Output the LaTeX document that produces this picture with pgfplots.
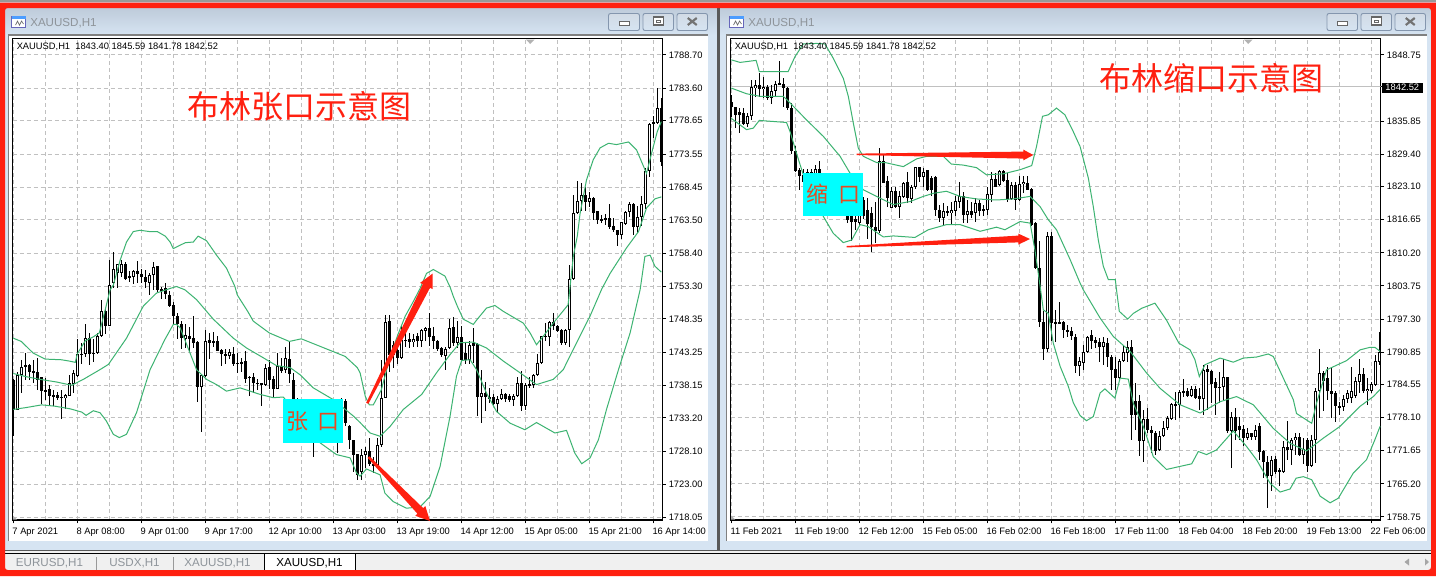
\documentclass[border=0pt]{standalone}
\usepackage{pgfplots}
\usepackage{pgfplotstable}
\usepackage{fontspec}
\pgfplotsset{compat=1.18}
\setmainfont{Liberation Sans}
\newfontfamily\cjk{Noto Sans CJK SC}
\definecolor{redframe}{HTML}{FF2010}
\definecolor{winblue}{HTML}{D6E4F2}
\definecolor{titletop}{HTML}{BECBDA}
\definecolor{bandgreen}{HTML}{3CB371}
\definecolor{gridgray}{HTML}{C0C0C0}
\definecolor{btnedge}{HTML}{8496AE}
\definecolor{tabbg}{HTML}{F0F0F0}
\definecolor{graytext}{HTML}{8E949A}
\definecolor{boxtext}{HTML}{E84A20}
\definecolor{cybox}{HTML}{00FFFF}

\pgfplotstableread{
i o h l c
0 1739.0 1739.1 1730.5 1734.4
1 1734.5 1740.2 1734.4 1739.8
2 1739.8 1742.1 1737.0 1741.0
3 1741.0 1743.1 1739.0 1741.3
4 1741.3 1741.5 1739.0 1740.3
5 1740.4 1742.0 1738.5 1740.1
6 1740.2 1742.4 1737.5 1739.0
7 1739.5 1739.5 1735.4 1737.3
8 1737.5 1739.3 1736.0 1737.2
9 1737.7 1738.3 1735.2 1736.5
10 1736.7 1737.5 1735.0 1736.5
11 1736.7 1737.2 1736.0 1736.2
12 1736.4 1737.5 1733.0 1736.3
13 1736.2 1736.9 1734.6 1736.7
14 1736.6 1739.8 1736.5 1738.6
15 1738.4 1740.6 1737.0 1740.0
16 1739.6 1745.3 1739.4 1743.0
17 1743.0 1744.7 1741.5 1742.9
18 1743.0 1747.6 1742.6 1745.4
19 1745.4 1746.2 1741.3 1743.0
20 1743.2 1745.2 1741.8 1743.0
21 1743.1 1746.2 1743.0 1745.7
22 1745.7 1751.2 1745.6 1749.5
23 1749.5 1750.0 1746.1 1747.3
24 1747.3 1757.4 1747.2 1753.6
25 1753.8 1758.6 1753.0 1756.0
26 1755.3 1756.8 1753.0 1756.8
27 1755.3 1757.4 1754.8 1756.8
28 1756.8 1757.1 1754.3 1754.5
29 1754.9 1755.7 1754.0 1754.7
30 1754.8 1755.8 1753.7 1755.7
31 1755.7 1757.2 1753.9 1755.2
32 1755.2 1756.0 1753.9 1754.7
33 1754.8 1755.8 1753.0 1754.0
34 1753.9 1755.3 1752.0 1755.0
35 1755.0 1757.1 1752.8 1756.3
36 1756.4 1756.5 1752.5 1752.8
37 1752.6 1753.2 1751.4 1752.9
38 1753.1 1753.8 1751.4 1752.1
39 1752.0 1752.6 1750.1 1750.3
40 1750.5 1751.0 1747.5 1748.8
41 1748.8 1749.2 1745.2 1747.6
42 1747.6 1748.0 1743.8 1745.4
43 1745.3 1747.5 1743.9 1745.9
44 1745.8 1747.1 1743.3 1745.3
45 1745.4 1748.8 1743.9 1744.6
46 1744.9 1745.0 1735.6 1738.0
47 1738.0 1739.9 1731.0 1739.7
48 1739.6 1746.6 1739.5 1745.0
49 1745.1 1746.2 1742.2 1744.7
50 1744.7 1746.4 1744.0 1745.0
51 1745.0 1745.7 1743.5 1743.5
52 1743.6 1743.8 1741.2 1743.0
53 1743.0 1743.8 1741.5 1742.8
54 1742.7 1743.8 1742.3 1743.3
55 1743.0 1744.1 1741.2 1741.5
56 1741.6 1743.1 1740.1 1741.5
57 1741.7 1742.4 1740.3 1741.5
58 1741.9 1743.4 1738.5 1739.2
59 1739.5 1739.7 1736.6 1739.3
60 1739.4 1740.0 1737.0 1738.5
61 1738.6 1739.2 1737.5 1738.4
62 1738.5 1738.5 1735.0 1738.3
63 1738.3 1741.4 1738.1 1740.9
64 1741.0 1742.0 1737.6 1739.0
65 1739.1 1739.6 1736.2 1737.7
66 1737.7 1743.2 1737.6 1741.2
67 1741.2 1742.4 1740.1 1740.4
68 1740.5 1744.1 1740.0 1742.4
69 1742.2 1744.9 1738.5 1740.0
70 1739.0 1740.1 1735.0 1736.0
71 1736.0 1736.3 1733.5 1735.0
72 1735.0 1735.2 1732.5 1733.5
73 1733.5 1733.8 1731.0 1732.0
74 1732.0 1732.5 1730.5 1731.0
75 1731.0 1731.5 1727.2 1730.5
76 1730.5 1732.0 1730.0 1731.5
77 1731.5 1733.0 1731.0 1732.5
78 1732.5 1733.5 1731.0 1731.5
79 1731.5 1733.0 1730.0 1732.0
80 1732.0 1733.0 1730.5 1731.0
81 1731.0 1732.5 1727.8 1732.0
82 1732.0 1736.2 1731.5 1735.8
83 1735.8 1736.1 1732.0 1732.4
84 1731.9 1732.2 1728.4 1729.8
85 1729.9 1729.9 1724.9 1727.6
86 1727.7 1727.7 1723.7 1724.5
87 1725.0 1728.4 1723.7 1727.6
88 1727.5 1728.8 1725.5 1728.2
89 1728.2 1730.1 1725.8 1726.1
90 1726.1 1727.3 1724.8 1726.0
91 1726.0 1730.1 1725.5 1729.0
92 1729.0 1742.1 1728.8 1736.3
93 1736.3 1748.9 1736.2 1747.9
94 1748.1 1748.9 1740.2 1742.9
95 1744.4 1745.0 1740.9 1742.9
96 1743.6 1744.4 1741.5 1742.4
97 1742.4 1747.2 1742.3 1745.1
98 1745.2 1746.2 1744.0 1745.0
99 1745.2 1746.2 1743.9 1744.8
100 1744.8 1746.0 1744.0 1745.2
101 1745.8 1746.2 1744.0 1745.0
102 1745.0 1746.8 1744.0 1746.6
103 1746.5 1747.1 1745.0 1747.0
104 1747.0 1749.3 1744.2 1745.6
105 1745.7 1747.1 1743.8 1744.9
106 1745.0 1745.2 1743.5 1743.8
107 1743.9 1744.0 1742.5 1742.8
108 1742.6 1744.0 1740.6 1743.8
109 1743.9 1748.4 1743.7 1747.0
110 1747.1 1748.6 1744.2 1744.7
111 1744.6 1748.0 1743.9 1745.6
112 1745.6 1747.2 1741.9 1742.0
113 1743.2 1744.7 1741.5 1742.1
114 1742.1 1744.9 1741.5 1744.4
115 1744.6 1747.0 1741.6 1744.2
116 1744.5 1744.7 1733.5 1736.4
117 1736.4 1740.5 1732.5 1737.0
118 1737.0 1738.7 1734.2 1736.4
119 1736.4 1737.8 1735.5 1736.2
120 1736.4 1736.8 1735.2 1735.4
121 1735.4 1736.6 1733.9 1736.1
122 1736.1 1737.6 1735.9 1736.9
123 1736.8 1737.0 1735.7 1736.1
124 1736.5 1736.8 1735.6 1735.9
125 1735.9 1736.8 1735.1 1736.5
126 1736.5 1739.5 1736.4 1738.5
127 1738.5 1740.4 1734.2 1735.0
128 1735.1 1738.5 1734.4 1738.3
129 1738.4 1739.5 1737.8 1738.2
130 1738.2 1740.0 1737.8 1739.8
131 1739.7 1743.0 1739.6 1741.6
132 1741.6 1745.8 1741.4 1745.7
133 1745.6 1747.7 1745.0 1745.8
134 1745.6 1748.0 1744.2 1747.9
135 1747.9 1749.2 1746.7 1747.2
136 1747.3 1747.5 1746.3 1746.5
137 1746.6 1746.8 1744.4 1744.6
138 1744.6 1746.8 1744.4 1746.6
139 1746.6 1756.6 1744.0 1754.4
140 1754.4 1767.3 1754.3 1764.6
141 1764.5 1769.4 1764.4 1766.4
142 1766.4 1769.1 1764.9 1767.3
143 1767.3 1768.5 1764.9 1766.2
144 1766.2 1767.8 1765.5 1766.8
145 1766.9 1767.0 1763.5 1764.6
146 1764.8 1764.9 1762.9 1763.4
147 1763.6 1764.3 1763.0 1763.4
148 1763.8 1764.4 1762.7 1763.5
149 1763.8 1766.0 1762.1 1762.4
150 1762.6 1763.8 1761.7 1761.9
151 1762.0 1762.0 1759.5 1761.2
152 1761.2 1763.2 1760.5 1763.1
153 1762.9 1764.9 1762.7 1764.7
154 1764.7 1766.3 1763.9 1765.9
155 1765.9 1766.0 1761.2 1762.4
156 1762.4 1765.6 1761.5 1763.9
157 1763.9 1767.2 1762.5 1765.9
158 1765.9 1771.4 1765.1 1771.0
159 1771.0 1778.3 1770.1 1778.2
160 1778.2 1779.3 1776.0 1778.4
161 1778.3 1783.6 1778.2 1780.6
162 1780.6 1782.1 1771.8 1772.4
}\leftcandles

\pgfplotstableread{
i o h l c
0 1839.6 1841.0 1836.7 1838.6
1 1838.6 1838.6 1834.5 1837.1
2 1837.7 1838.4 1833.5 1837.1
3 1837.4 1838.4 1835.1 1835.4
4 1835.4 1837.4 1834.8 1836.9
5 1836.8 1843.9 1836.1 1842.5
6 1842.3 1843.9 1840.6 1842.9
7 1842.9 1845.3 1840.6 1842.1
8 1842.1 1844.5 1840.3 1842.5
9 1842.6 1842.9 1840.0 1840.3
10 1840.3 1842.9 1839.2 1841.8
11 1841.7 1843.6 1840.7 1843.1
12 1843.3 1847.5 1842.9 1843.0
13 1843.2 1844.2 1838.6 1842.3
14 1842.4 1842.6 1838.0 1838.4
15 1838.4 1839.4 1829.5 1830.0
16 1830.0 1831.0 1826.0 1826.1
17 1826.4 1826.7 1822.5 1825.1
18 1825.4 1826.5 1822.7 1824.0
19 1824.0 1826.5 1823.0 1826.0
20 1826.0 1826.5 1822.0 1824.5
21 1825.0 1827.4 1822.0 1826.5
22 1826.6 1828.0 1821.0 1824.0
23 1824.0 1824.5 1822.0 1823.0
24 1823.0 1823.5 1820.5 1821.5
25 1821.5 1822.5 1820.0 1820.5
26 1820.5 1821.5 1819.0 1820.0
27 1820.0 1820.5 1818.0 1819.0
28 1819.0 1820.0 1817.5 1818.0
29 1818.0 1819.0 1816.0 1816.7
30 1817.3 1818.0 1812.6 1816.2
31 1816.9 1818.0 1814.6 1816.2
32 1816.0 1820.0 1815.7 1818.5
33 1820.5 1821.0 1816.9 1817.4
34 1818.5 1820.9 1812.9 1815.9
35 1817.9 1819.2 1810.3 1815.3
36 1815.3 1820.2 1812.1 1814.4
37 1814.4 1830.6 1814.0 1828.1
38 1828.1 1829.3 1823.8 1823.9
39 1824.2 1825.1 1819.1 1820.9
40 1819.0 1823.1 1818.9 1822.2
41 1822.2 1823.0 1818.9 1819.1
42 1819.1 1822.2 1817.0 1821.2
43 1821.1 1824.1 1820.9 1823.9
44 1824.1 1826.0 1819.9 1820.9
45 1820.7 1823.5 1819.9 1823.0
46 1823.0 1827.0 1822.6 1826.9
47 1826.9 1827.0 1824.1 1824.9
48 1824.9 1826.7 1823.1 1825.9
49 1826.3 1826.4 1822.2 1822.4
50 1824.8 1825.1 1821.2 1822.4
51 1824.9 1825.1 1817.3 1818.5
52 1818.6 1819.6 1816.3 1817.0
53 1817.0 1819.9 1815.7 1818.3
54 1818.3 1819.4 1817.3 1818.0
55 1818.0 1820.2 1815.7 1818.5
56 1818.3 1821.2 1817.3 1820.3
57 1820.2 1824.1 1818.9 1821.3
58 1821.2 1822.0 1816.0 1817.6
59 1817.6 1820.5 1816.0 1818.4
60 1818.4 1820.2 1817.0 1817.6
61 1817.9 1820.9 1816.3 1820.0
62 1820.0 1820.5 1817.3 1818.4
63 1818.7 1819.6 1817.3 1818.5
64 1818.5 1823.1 1817.6 1821.7
65 1821.5 1825.9 1820.2 1824.6
66 1824.6 1825.7 1823.0 1823.0
67 1823.5 1826.4 1823.3 1826.2
68 1826.2 1826.4 1824.1 1824.3
69 1824.4 1825.7 1820.2 1820.7
70 1820.7 1824.1 1820.5 1823.5
71 1823.5 1824.0 1818.6 1820.5
72 1820.5 1825.1 1820.3 1823.7
73 1823.7 1825.2 1821.8 1824.1
74 1823.9 1825.2 1822.4 1822.5
75 1822.6 1822.8 1815.5 1815.7
76 1816.0 1816.3 1807.0 1807.2
77 1807.2 1812.6 1795.8 1796.7
78 1796.8 1798.8 1789.4 1791.4
79 1791.4 1814.2 1790.8 1813.5
80 1813.5 1814.2 1793.0 1796.5
81 1796.7 1799.0 1792.9 1796.5
82 1796.7 1800.6 1796.3 1796.5
83 1796.7 1797.0 1793.6 1795.1
84 1795.1 1796.2 1793.8 1794.8
85 1795.0 1795.8 1793.3 1794.1
86 1793.8 1794.4 1786.8 1788.1
87 1788.1 1790.0 1786.3 1789.2
88 1788.8 1792.3 1787.4 1790.9
89 1790.9 1794.1 1790.7 1793.9
90 1794.1 1795.1 1791.4 1793.1
91 1793.2 1793.9 1791.6 1792.7
92 1792.9 1793.6 1789.0 1791.8
93 1791.8 1793.9 1788.4 1792.8
94 1792.7 1793.6 1788.0 1789.9
95 1790.0 1790.3 1783.5 1787.4
96 1787.6 1790.0 1783.4 1785.8
97 1785.8 1789.5 1785.6 1789.2
98 1789.1 1792.0 1789.0 1790.9
99 1790.7 1793.1 1789.0 1791.9
100 1791.9 1793.2 1773.8 1778.6
101 1781.4 1784.8 1775.7 1778.6
102 1781.4 1782.5 1770.7 1773.5
103 1773.5 1779.6 1769.4 1777.9
104 1777.9 1780.0 1775.2 1775.6
105 1775.7 1776.4 1771.2 1775.2
106 1775.1 1775.4 1770.9 1771.7
107 1771.7 1775.4 1771.6 1774.6
108 1774.5 1777.4 1774.3 1776.1
109 1776.1 1778.5 1775.7 1778.1
110 1777.9 1780.9 1777.7 1780.7
111 1780.8 1783.0 1777.7 1780.5
112 1780.6 1783.5 1778.0 1783.1
113 1783.3 1785.6 1782.1 1782.9
114 1783.3 1783.8 1782.1 1782.3
115 1782.3 1784.2 1782.1 1783.7
116 1783.7 1784.2 1781.7 1781.9
117 1782.3 1783.8 1779.5 1781.8
118 1781.8 1788.4 1778.6 1787.4
119 1787.5 1788.4 1779.6 1787.0
120 1787.2 1787.4 1780.9 1784.7
121 1785.0 1785.8 1778.6 1783.9
122 1784.1 1786.9 1781.0 1783.9
123 1784.0 1789.5 1781.6 1786.0
124 1786.1 1786.1 1775.1 1775.4
125 1775.5 1779.3 1768.3 1778.2
126 1778.2 1780.0 1773.7 1775.5
127 1776.5 1778.3 1773.7 1775.7
128 1775.9 1776.7 1772.6 1774.1
129 1774.1 1776.0 1773.8 1775.1
130 1775.1 1775.2 1773.8 1774.4
131 1774.4 1776.7 1773.8 1775.7
132 1776.5 1777.0 1769.8 1771.5
133 1771.6 1771.8 1766.3 1769.4
134 1769.5 1770.7 1760.5 1766.8
135 1766.8 1770.7 1763.8 1769.9
136 1770.0 1770.7 1767.2 1767.6
137 1767.9 1768.2 1764.7 1767.7
138 1767.6 1773.6 1767.4 1772.3
139 1772.4 1777.5 1769.9 1771.8
140 1771.8 1774.1 1768.9 1773.8
141 1773.7 1775.1 1770.9 1774.3
142 1774.4 1775.1 1770.7 1770.9
143 1770.8 1774.1 1769.0 1772.0
144 1773.8 1774.1 1767.5 1768.6
145 1768.6 1774.8 1768.5 1773.8
146 1773.7 1783.8 1769.2 1783.3
147 1783.2 1791.4 1778.0 1786.8
148 1786.8 1787.2 1779.3 1785.3
149 1785.8 1787.9 1781.6 1783.2
150 1783.3 1787.9 1778.0 1782.7
151 1782.9 1783.2 1777.2 1780.3
152 1780.4 1781.2 1778.6 1780.1
153 1780.1 1782.5 1779.3 1781.8
154 1781.8 1783.4 1780.9 1782.9
155 1782.0 1787.9 1780.9 1783.2
156 1782.3 1786.0 1782.0 1785.3
157 1785.1 1789.5 1783.0 1786.6
158 1786.6 1787.7 1783.0 1783.2
159 1783.2 1785.8 1780.6 1783.6
160 1783.2 1785.0 1782.9 1784.6
161 1784.4 1790.3 1784.3 1789.2
162 1788.9 1794.7 1788.3 1790.9
}\rightcandles

% #1 table, #2 price of one pixel
\newcommand{\candles}[2]{%
  \addplot[draw=none, mark=none, forget plot, error bars/.cd, y dir=both, y explicit, error mark=none,
    error bar style={draw=black, line width=.75pt}]
    table[x=i, y expr=(\thisrow{h}+\thisrow{l})/2, y error expr=(\thisrow{h}-\thisrow{l})/2] {#1};
  \addplot[draw=none, mark=none, forget plot, error bars/.cd, y dir=both, y explicit, error mark=none,
    error bar style={draw=black, line width=2.55pt}]
    table[x=i, y expr=(\thisrow{o}+\thisrow{c})/2, y error expr={max(abs(\thisrow{o}-\thisrow{c})/2, #2/2)}] {#1};
  \addplot[draw=none, mark=none, forget plot, error bars/.cd, y dir=both, y explicit, error mark=none,
    error bar style={draw=white, line width=1.05pt}]
    table[x=i, y expr=(\thisrow{o}+\thisrow{c})/2, y error expr={max((\thisrow{c}-\thisrow{o})/2-#2,0)}] {#1};
}
\pgfplotsset{mt4/.style={
  scale only axis, width=487.5pt, height=361.1pt, anchor=north west,
  axis line style={black, line width=1pt},
  xtick pos=bottom, ytick pos=right, yticklabel pos=right,
  tick align=outside, major tick length=2.6pt, minor tick length=0pt,
  tick style={black, line width=.75pt},
  grid=both,
  major grid style={gridgray, line width=.75pt, dash pattern=on 3pt off 2.25pt},
  minor grid style={gridgray, line width=.75pt, dash pattern=on 3pt off 2.25pt},
  xtick={0,16,...,160}, minor xtick={8,24,...,152},
  ticklabel style={font=\fontsize{7}{8}\selectfont, inner sep=0pt},
  xticklabel style={anchor=north west, xshift=-0.8pt, yshift=-3.2pt},
  yticklabel style={anchor=west, xshift=1.9pt},
  band/.style={bandgreen, line width=.75pt, mark=none, forget plot},
}}
\newcommand{\wbutton}[3]{%
  \shade[top color=titletop!70!white, bottom color=winblue, rounded corners=1.5pt, draw=btnedge, line width=.7pt] (#1,-13.5) rectangle (#2,-30.5);
  \ifcase#3
    \draw[line width=.7pt, draw=black!60, fill=white] ({(#1+#2)/2-5},-21) rectangle ({(#1+#2)/2+5},-25.5);
  \or
    \draw[line width=.9pt, draw=black!60, fill=white] ({(#1+#2)/2-5},-17) rectangle ({(#1+#2)/2+5},-25);
    \draw[line width=.7pt, draw=black!60] ({(#1+#2)/2-2},-20) rectangle ({(#1+#2)/2+2},-22);
  \or
    \draw[line width=1.6pt, draw=black!55] ({(#1+#2)/2-4.5},-18) -- ({(#1+#2)/2+4.5},-25) ({(#1+#2)/2-4.5},-25) -- ({(#1+#2)/2+4.5},-18);
  \fi}
\newcommand{\wicon}[1]{%
  \fill[white, draw=black!45!blue!60, line width=.5pt] (#1,-16) rectangle (#1+14,-27);
  \fill[blue!55!cyan!70] (#1,-16) rectangle (#1+14,-18.5);
  \draw[black!60, line width=.5pt] (#1+4,-25) -- (#1+6,-21) -- (#1+8,-25) -- (#1+10,-21) -- (#1+12,-24);}
\begin{document}
\begin{tikzpicture}[x=.75pt,y=.75pt]
\useasboundingbox (0,0) rectangle (1436,-576);
% window chrome
\fill[white] (0,0) rectangle (1436,-576);
\fill[black!40] (0,0) rectangle (1436,-2);
\fill[winblue] (0,-2) rectangle (1436,-551);
\shade[top color=titletop, bottom color=winblue] (0,-8) rectangle (717,-35);
\shade[top color=titletop, bottom color=winblue] (720,-8) rectangle (1436,-35);
\fill[black!65] (717,-8) rectangle (719.5,-550);
\fill[white] (8,-35) rectangle (708,-541);
\fill[white] (726.5,-35) rectangle (1427,-541);
\draw[black!50, line width=.8pt] (8.5,-541) -- (8.5,-35) -- (708,-35);
\draw[black!50, line width=.8pt] (726.5,-541) -- (726.5,-35) -- (1427,-35);
\wicon{11.5}\wicon{729.5}
\node[anchor=west, inner sep=0pt, text=graytext, font=\fontsize{8.7}{10}\selectfont] at (30,-23) {XAUUSD,H1};
\node[anchor=west, inner sep=0pt, text=graytext, font=\fontsize{8.7}{10}\selectfont] at (748,-23) {XAUUSD,H1};
\wbutton{608.5}{639.5}{0}\wbutton{643}{673.5}{1}\wbutton{677}{707.5}{2}
\wbutton{1327}{1357.5}{0}\wbutton{1361}{1391.5}{1}\wbutton{1395}{1425.5}{2}
% tab bar
\fill[tabbg] (0,-551) rectangle (1436,-576);
\fill[black!65] (0,-550) rectangle (1436,-551);
\fill[black] (0,-553) rectangle (1436,-553.8);
\fill[white, draw=black, line width=.7pt] (264.7,-570) -- (264.7,-553.5) -- (355,-553.5) -- (355,-570) -- cycle;
\fill[black!40] (96,-557) rectangle (96.8,-570);
\fill[black!40] (172.5,-557) rectangle (173.3,-570);
\node[text=graytext, inner sep=0pt, font=\fontsize{8.7}{10}\selectfont] at (49.5,-563) {EURUSD,H1};
\node[text=graytext, inner sep=0pt, font=\fontsize{8.7}{10}\selectfont] at (134.5,-563) {USDX,H1};
\node[text=graytext, inner sep=0pt, font=\fontsize{8.7}{10}\selectfont] at (217.5,-563) {XAUUSD,H1};
\node[text=black, inner sep=0pt, font=\fontsize{8.7}{10}\selectfont] at (309.5,-563) {XAUUSD,H1};
\fill[black!35] (1404.5,-562) -- (1409,-558.5) -- (1409,-565.5) -- cycle;
\fill[black!35] (1429,-562) -- (1425,-558.5) -- (1425,-565.5) -- cycle;
% red frame
\fill[redframe, even odd rule] (0,-2.5) rectangle (1436,-576) [rounded corners=2pt] (5,-8) rectangle (1431,-570);

% left chart
\begin{axis}[mt4, at={(9.375pt,-28.875pt)},
  xmin=-0.2, xmax=162.3, ymin=1717.60, ymax=1791.22,
  xticklabels={7 Apr 2021,8 Apr 08:00,9 Apr 01:00,9 Apr 17:00,12 Apr 10:00,13 Apr 03:00,13 Apr 19:00,14 Apr 12:00,15 Apr 05:00,15 Apr 21:00,16 Apr 14:00},
  ytick={1788.70,1783.60,1778.65,1773.55,1768.45,1763.50,1758.40,1753.30,1748.35,1743.25,1738.15,1733.20,1728.10,1723.00,1718.05},
  yticklabels={1788.70,1783.60,1778.65,1773.55,1768.45,1763.50,1758.40,1753.30,1748.35,1743.25,1738.15,1733.20,1728.10,1723.00,1718.05},
]
\candles{\leftcandles}{0.153}
\addplot[band] coordinates {(0,1745.4)(2,1744.9)(5,1743.1)(8,1742.2)(12,1742.1)(14,1741.9)(15.5,1741.7)(16,1743)(18,1745)(20,1745.6)(21.5,1746.2)(23,1749.8)(24.2,1752.8)(25,1753.5)(26.7,1757.3)(28.3,1760.1)(30,1761.7)(31.7,1761.9)(34,1761.7)(36,1761.7)(38,1761)(39.2,1760.1)(40,1759.1)(43,1760)(45,1760.1)(46.2,1761)(48.3,1760.3)(50.8,1758.1)(53.3,1756.1)(55.4,1753.3)(56,1752)(58.6,1749.5)(60,1748)(64,1746.2)(69,1744.9)(72,1745.3)(76.5,1744.2)(83,1742.6)(86,1740.9)(86.7,1740.1)(88,1736.5)(89,1735.2)(90,1735.2)(92,1737.5)(94,1742.1)(96,1745.7)(98,1748.8)(100,1751)(101.7,1753)(103.3,1755.3)(105,1755.9)(107.9,1754.9)(109.2,1753.2)(110,1751.8)(111,1750.3)(112.5,1748.3)(115,1747.5)(116,1748.3)(118.3,1750)(120.4,1750.4)(122.5,1749.5)(127.5,1747.7)(129.2,1746.2)(130.8,1744.4)(132.5,1745.7)(135,1747.7)(136.7,1749)(138.7,1750.5)(140,1757.9)(141,1761)(141.7,1764.5)(143.3,1769.6)(145,1772.7)(146.7,1774.5)(148.8,1775.2)(150.8,1775)(153.8,1775.4)(155.8,1774.2)(158.3,1770.6)(160,1774.7)(161,1777)(162,1778.5)};
\addplot[band] coordinates {(0,1740)(3.3,1739.5)(6.7,1739.1)(10.8,1738.7)(14.6,1738.2)(17.5,1739.1)(21.7,1740.6)(23.8,1741.4)(28.3,1745.4)(32.5,1750.3)(35.8,1752.3)(39.2,1753)(40.8,1753.3)(42.9,1752.8)(45.8,1751.3)(50,1748.3)(55,1745.4)(58.3,1743.9)(62.5,1742.4)(65.8,1741.2)(69.2,1740.9)(71.7,1739.8)(75,1737.8)(80,1736)(85,1733.5)(86.7,1732.5)(89.2,1730.9)(91.7,1730.4)(94.2,1731.9)(97.5,1734.5)(102.1,1736.8)(105.8,1740.1)(109.2,1742.9)(111.7,1744.7)(115,1744.8)(118.3,1743.9)(122.5,1741.9)(126.7,1740.1)(130.8,1738.3)(135,1739.1)(137.5,1740.6)(140,1743.7)(144.2,1748.8)(147.1,1752.9)(149.2,1755.3)(153.3,1759.2)(156.3,1761.7)(158.3,1765.3)(160.4,1766.7)(162,1767)};
\addplot[band] coordinates {(0,1734.5)(3.3,1734.8)(7.1,1735.2)(10.4,1735)(14.2,1734.6)(17.1,1734.1)(18.2,1733.6)(20,1734.3)(21.7,1734)(23.3,1732.7)(25,1730.7)(26.5,1730.2)(28.3,1730.7)(30.8,1734)(34.2,1740.6)(37.9,1745.2)(40,1747.5)(40.8,1747.5)(41.7,1747)(44.2,1743.1)(45.8,1740.6)(48.3,1739.1)(50.8,1738.3)(53.3,1737.3)(56.7,1737.8)(61.7,1736.8)(65,1736.3)(67.5,1736.4)(76.7,1729.4)(80.8,1727.6)(84.2,1727.1)(85.8,1724.8)(86.7,1724.3)(88.3,1725.4)(91.7,1724.5)(92.9,1721.7)(95,1720.4)(98.3,1719.4)(101.7,1719.6)(104.2,1721.2)(106.7,1725.8)(109.2,1733.5)(110.8,1739.6)(112.1,1742)(114.2,1742.1)(115.8,1740.6)(118.3,1737)(120.8,1734.2)(124.2,1732.4)(127.9,1731.4)(130.8,1732.5)(135.4,1730.9)(138.3,1731.3)(140.4,1727.8)(142.1,1726.2)(144.2,1727.1)(146.3,1729.9)(148.3,1734.5)(151.3,1740.6)(154.2,1746.2)(156.7,1752.8)(157.9,1757.9)(159.2,1758.1)(160.4,1756.4)(162,1755.5)};
\end{axis}

% right chart
\begin{axis}[mt4, at={(548.025pt,-28.875pt)},
  xmin=-0.15, xmax=162.35, ymin=1758.16, ymax=1851.96,
  xticklabels={11 Feb 2021,11 Feb 19:00,12 Feb 12:00,15 Feb 05:00,16 Feb 02:00,16 Feb 18:00,17 Feb 11:00,18 Feb 04:00,18 Feb 20:00,19 Feb 13:00,22 Feb 06:00},
  ytick={1848.75,1842.52,1835.85,1829.40,1823.10,1816.65,1810.20,1803.75,1797.30,1790.85,1784.55,1778.10,1771.65,1765.20,1758.75},
  yticklabels={1848.75,,1835.85,1829.40,1823.10,1816.65,1810.20,1803.75,1797.30,1790.85,1784.55,1778.10,1771.65,1765.20,1758.75},
]
\addplot[gridgray, line width=.75pt, forget plot] coordinates {(-0.15,1842.52)(162.35,1842.52)};
\candles{\rightcandles}{0.195}
\addplot[band] coordinates {(0,1847.8)(2.2,1847.3)(6.2,1847.7)(7,1845.5)(10.5,1845.5)(14.2,1845.5)(15.9,1848.4)(18,1850.9)(21.3,1851)(23.4,1850.9)(25.5,1848.1)(28,1844.2)(29.25,1840.7)(30.5,1835.5)(31.75,1830.6)(33,1829)(36.3,1827.8)(38.4,1827.8)(43,1827)(46.3,1828.5)(48.8,1829)(53,1829)(55,1827.5)(58,1827.3)(61.3,1826.8)(63.8,1825.4)(68,1825.6)(72.2,1826.4)(75.1,1827.2)(76.3,1830.9)(77.8,1836.8)(79.25,1837.1)(81.3,1838.4)(83.4,1837.1)(85.5,1833.8)(87.2,1830.9)(89.25,1824.8)(90.5,1819.2)(91.75,1812.7)(93,1807.6)(94.25,1805)(96,1805)(96.3,1803)(97,1798.8)(99.1,1797.3)(100.5,1798.4)(102.6,1799.4)(105.9,1800.4)(108.8,1797.1)(111.9,1792.6)(114.7,1791.3)(115.9,1789.4)(117,1786.1)(118.4,1788.4)(122.2,1789.7)(125.5,1788.9)(128,1789.7)(131.3,1789.9)(134.25,1790.5)(135.5,1790)(140.5,1781.6)(141.3,1778.9)(145.1,1777)(146.3,1780.9)(148.8,1787.4)(153.8,1789.2)(157.2,1791.3)(159.7,1791.8)(160.9,1791.8)(162.2,1791)};
\addplot[band] coordinates {(0,1842.3)(3.8,1841.2)(7.2,1840.7)(13,1840.7)(14.7,1839.4)(18.8,1836.1)(23,1832.9)(27.2,1829)(29.7,1825.7)(33,1822.5)(36.3,1821.2)(40.5,1819.6)(44.7,1820.2)(48,1821.2)(50.5,1821.8)(53.8,1822.2)(57.2,1821.2)(61.3,1820.7)(66.3,1820.5)(70.5,1820.7)(74.7,1821.2)(77.2,1819.2)(79.25,1816.65)(81.3,1814.7)(84.7,1808.9)(87.2,1804.3)(88,1803)(92.2,1797.5)(95.5,1793.9)(99.7,1791)(103.8,1786.8)(107.2,1783.8)(112.2,1780.6)(117.2,1779)(122.2,1781.2)(126.3,1782.2)(130.5,1780.6)(135.5,1776)(139.7,1773.1)(143.8,1771.6)(148,1774.1)(152.2,1776.4)(157.2,1780.3)(160.5,1782.2)(162.2,1783.6)};
\addplot[band] coordinates {(0,1836.4)(3.8,1834.2)(5.5,1834.5)(7,1836)(13.8,1835.6)(14.7,1833.8)(16.3,1829.6)(18,1825.4)(23,1817.3)(25.5,1814)(28,1812.2)(30.1,1812.7)(32.2,1815.7)(34.25,1815.3)(38,1813.3)(40.5,1813.5)(45.9,1813.2)(49.25,1814.7)(53.8,1815.7)(57.2,1815.7)(62.2,1814.4)(66.3,1815.2)(68.4,1814.7)(72.2,1816.3)(74.7,1816)(75.9,1810.8)(77.2,1803.7)(78,1799.1)(79.25,1798.4)(80.5,1792.6)(82.2,1788.1)(84.25,1784.2)(85.5,1781)(87.2,1778.5)(88.8,1777.5)(90.5,1778.3)(92.2,1782.9)(93.4,1783.7)(95.9,1781.9)(97.2,1785.8)(99.25,1785.6)(100.5,1780.9)(103,1776.4)(105.5,1770.5)(108.8,1768)(112.2,1768.6)(115.1,1769.1)(116.75,1771.5)(118.8,1770.9)(121.3,1771.8)(125.5,1775.5)(128.8,1772.5)(131.3,1769.9)(134.7,1765.3)(137.2,1763.6)(139.7,1764.2)(141.2,1766.3)(143,1766.6)(145.1,1766)(147.2,1762.8)(149.7,1761.5)(151.75,1762.4)(155.5,1767.3)(158.8,1769.9)(160.9,1773.8)(162.2,1776.4)};
\end{axis}

% chart furniture
\node[anchor=west, inner sep=0pt, font=\fontsize{7}{8}\selectfont] at (16.5,-46.5) {XAUUSD,H1\ \ 1843.40 1845.59 1841.78 1842.52};
\node[anchor=west, inner sep=0pt, font=\fontsize{7}{8}\selectfont] at (734.5,-46.5) {XAUUSD,H1\ \ 1843.40 1845.59 1841.78 1842.52};
\fill[black!30] (526,-39.5) -- (534.5,-39.5) -- (530.2,-44) -- cycle;
\fill[black!30] (1244,-39.5) -- (1252.5,-39.5) -- (1248.2,-44) -- cycle;
\fill[black!30] (13,-519.5) -- (17,-519.5) -- (13,-515.5) -- cycle;
\fill[black!30] (731.2,-519.5) -- (735.2,-519.5) -- (731.2,-515.5) -- cycle;
\fill[black] (1381.7,-82.7) rectangle (1422.7,-92.7);
\node[inner sep=0pt, text=white, font=\fontsize{7}{8}\selectfont] at (1402.3,-87.7) {1842.52};

% annotations
\node[inner sep=0pt, text=redframe, font=\cjk\fontsize{24}{26}\selectfont] at (299.5,-106) {布林张口示意图};
\node[inner sep=0pt, text=redframe, font=\cjk\fontsize{24}{26}\selectfont] at (1211,-78) {布林缩口示意图};
\fill[cybox] (283.3,-399) rectangle (343,-443);
\fill[cybox] (803.3,-173) rectangle (863.3,-216);
\node[inner sep=0pt, text=boxtext, font=\cjk\fontsize{16.5}{18}\selectfont] at (313,-421) {张\hspace{0.45em}口};
\node[inner sep=0pt, text=boxtext, font=\cjk\fontsize{16.5}{18}\selectfont] at (833.5,-194) {缩\hspace{0.45em}口};
\fill[redframe] (368.4,-403.8) -- (430,-287.8) -- (432.65,-289.15) -- (432.7,-273.5) -- (420.15,-282.85) -- (422.8,-284.2) -- (366.2,-402.8) -- cycle;
\fill[redframe] (369.4,-456.2) -- (423.2,-508.1) -- (425.3,-506) -- (430,-521) -- (415.3,-515.8) -- (417.4,-513.7) -- (367.6,-457.8) -- cycle;
\fill[redframe] (856.7,-153.6) -- (1023.3,-151.6) -- (1023.3,-149.6) -- (1033.3,-155) -- (1023.3,-160.4) -- (1023.3,-158.6) -- (856.7,-155) -- cycle;
\fill[redframe] (846.7,-246) -- (1018.3,-235.6) -- (1018.3,-233.6) -- (1030,-239) -- (1018.3,-244.6) -- (1018.3,-242.4) -- (846.7,-247.4) -- cycle;
\end{tikzpicture}
\end{document}
